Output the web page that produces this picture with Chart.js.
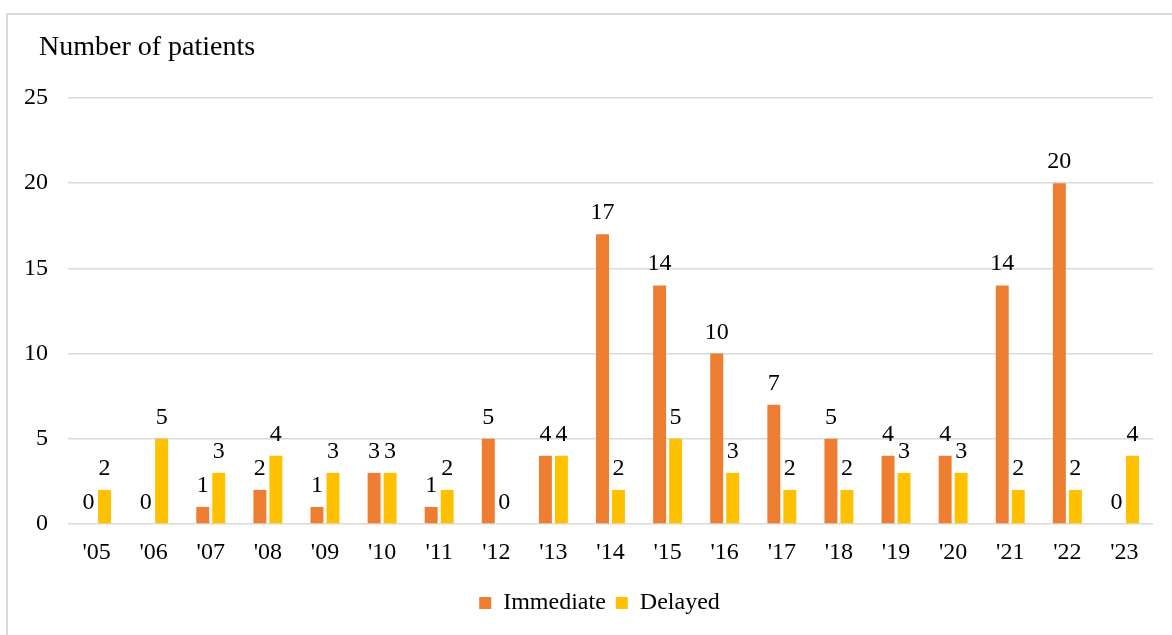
<!DOCTYPE html>
<html>
<head>
<meta charset="utf-8">
<script src="https://cdn.jsdelivr.net/npm/chart.js@4.4.1/dist/chart.umd.min.js"></script>
<style>
  html, body { margin: 0; padding: 0; background: #ffffff; }
  #wrap { position: relative; width: 1172px; height: 635px; }
</style>
</head>
<body>
<div id="wrap"><canvas id="c" width="1172" height="635"></canvas></div>
<script>
// Patients per year, by treatment timing
const years = ["'05", "'06", "'07", "'08", "'09", "'10", "'11", "'12", "'13", "'14",
               "'15", "'16", "'17", "'18", "'19", "'20", "'21", "'22", "'23"];
const immediate = [0, 0, 1, 2, 1, 3, 1, 5, 4, 17, 14, 10, 7, 5, 4, 4, 14, 20, 0];
const delayed   = [2, 5, 3, 4, 3, 3, 2, 0, 4, 2, 5, 3, 2, 2, 3, 3, 2, 2, 4];
const yTicks = [0, 5, 10, 15, 20, 25];
const axisTitle = 'Number of patients';

const FONT = "'Liberation Serif', 'Times New Roman', serif";
const ORANGE = '#ED7D31';
const YELLOW = '#FFC000';
const GRID = '#d9d9d9';

// White background, outer frame and the axis caption in the top-left corner
const framePlugin = {
  id: 'frame',
  afterLayout(chart) {
    // centre the legend under the plot area rather than the whole canvas
    const lg = chart.legend;
    if (lg) {
      const shift = (chart.chartArea.left + chart.chartArea.right) / 2 - 11 - (lg.left + lg.right) / 2;
      lg.left += shift;
      lg.right += shift;
    }
  },
  beforeDraw(chart) {
    const ctx = chart.ctx;
    ctx.save();
    ctx.fillStyle = '#ffffff';
    ctx.fillRect(0, 0, chart.width, chart.height);
    ctx.strokeStyle = GRID;
    ctx.lineWidth = 2;
    ctx.strokeRect(7, 14, chart.width + 20, chart.height + 20);
    ctx.fillStyle = '#000000';
    ctx.font = '28px ' + FONT;
    ctx.textAlign = 'left';
    ctx.textBaseline = 'alphabetic';
    ctx.fillText(axisTitle, 39, 55);
    ctx.restore();
  }
};

// Value written above every bar
const valueLabels = {
  id: 'valueLabels',
  afterDatasetsDraw(chart) {
    const ctx = chart.ctx;
    ctx.save();
    ctx.fillStyle = '#000000';
    ctx.font = '24px ' + FONT;
    ctx.textAlign = 'center';
    ctx.textBaseline = 'alphabetic';
    chart.data.datasets.forEach((ds, i) => {
      const meta = chart.getDatasetMeta(i);
      meta.data.forEach((bar, j) => {
        ctx.fillText(String(ds.data[j]), bar.x, bar.y - 15);
      });
    });
    ctx.restore();
  }
};

new Chart(document.getElementById('c'), {
  type: 'bar',
  data: {
    labels: years,
    datasets: [
      { label: 'Immediate', data: immediate, backgroundColor: ORANGE },
      { label: 'Delayed', data: delayed, backgroundColor: YELLOW }
    ]
  },
  options: {
    responsive: false,
    animation: false,
    devicePixelRatio: 1,
    datasets: { bar: { categoryPercentage: 0.56, barPercentage: 0.81 } },
    layout: { padding: { left: 8, right: 19, top: 98, bottom: 10 } },
    scales: {
      x: {
        grid: { display: false, drawTicks: false },
        border: { display: false },
        ticks: { color: '#000000', font: { family: FONT, size: 24 }, padding: 14 },
        afterFit(scale) { scale.height = 57; }
      },
      y: {
        min: 0,
        max: 25,
        afterBuildTicks(scale) { scale.ticks = yTicks.map(v => ({ value: v })); },
        grid: { color: GRID, lineWidth: 1.5, drawTicks: false },
        border: { display: false },
        ticks: { color: '#000000', font: { family: FONT, size: 24 }, padding: 20 },
        afterFit(scale) { scale.width = 60; }
      }
    },
    plugins: {
      legend: {
        position: 'bottom',
        labels: {
          color: '#000000',
          font: { family: FONT, size: 24 },
          boxWidth: 12,
          boxHeight: 12,
          padding: 10
        }
      },
      tooltip: { enabled: false }
    }
  },
  plugins: [framePlugin, valueLabels]
});
</script>
</body>
</html>
